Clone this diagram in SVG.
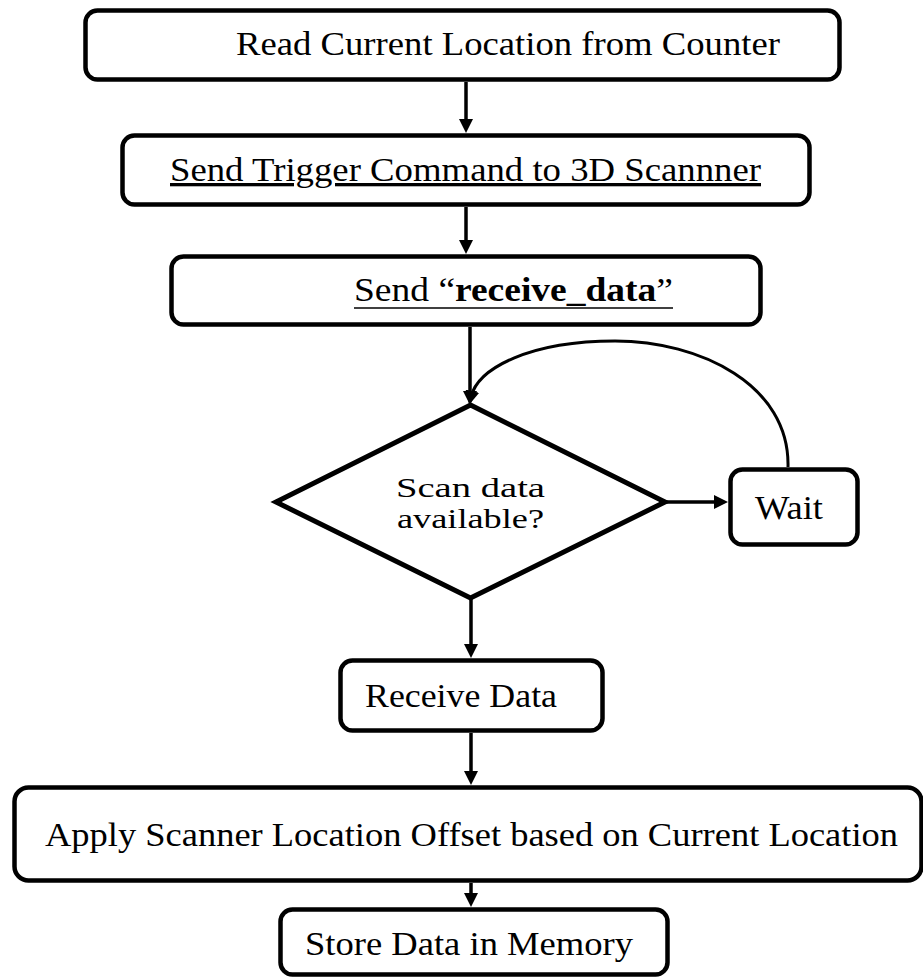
<svg xmlns="http://www.w3.org/2000/svg" width="923" height="977" viewBox="0 0 923 977">
<style>
.box{fill:#fff;stroke:#000;stroke-width:4.5}
.t{font-family:"Liberation Serif","Times New Roman",serif;font-size:33px;fill:#000}
.d{font-size:28px}
.u{text-decoration:underline}
.c{fill:none;stroke:#000;stroke-width:3.5}
</style>
<defs>
<marker id="ah" markerUnits="userSpaceOnUse" markerWidth="16" markerHeight="14" refX="6" refY="7" orient="auto">
<path d="M0,0 L14,7 L0,14 z" fill="#000"/>
</marker>
</defs>
<rect width="923" height="977" fill="#fff"/>
<g id="connectors">
<line class="c" x1="466" y1="82" x2="466" y2="125" marker-end="url(#ah)"/>
<line class="c" x1="466" y1="207" x2="466" y2="246" marker-end="url(#ah)"/>
<line class="c" x1="470" y1="327" x2="470" y2="397" marker-end="url(#ah)"/>
<line class="c" x1="665" y1="502" x2="720" y2="502" marker-end="url(#ah)"/>
<path class="c" style="stroke-width:3" d="M788 467 C790 385 700 341 615 341 C530 341 478 368 471 397" marker-end="url(#ah)"/>
<line class="c" x1="471" y1="598" x2="471" y2="650" marker-end="url(#ah)"/>
<line class="c" x1="471" y1="733" x2="471" y2="777" marker-end="url(#ah)"/>
<line class="c" x1="471" y1="883" x2="471" y2="899" marker-end="url(#ah)"/>
</g>
<g id="read">
<rect class="box" x="85.5" y="10.5" width="754" height="69" rx="12"/>
<text class="t" x="236" y="55" textLength="544" lengthAdjust="spacingAndGlyphs">Read Current Location from Counter</text>
</g>
<g id="trigger">
<rect class="box" x="122.5" y="135.5" width="687" height="69" rx="12"/>
<text class="t u" x="170" y="181" textLength="591" lengthAdjust="spacingAndGlyphs">Send Trigger Command to 3D Scannner</text>
</g>
<g id="send">
<rect class="box" x="171.5" y="256.5" width="589" height="68" rx="12"/>
<text class="t" x="354" y="301" textLength="319" lengthAdjust="spacingAndGlyphs">Send “<tspan font-weight="bold">receive_data</tspan>”</text>
<line x1="354" y1="308" x2="673" y2="308" stroke="#000" stroke-width="1.6"/>
</g>
<g id="decision">
<polygon class="box" style="stroke-width:5" points="470.5,405 665,502 470.5,598 276,502"/>
<text class="t d" x="396" y="497" textLength="149" lengthAdjust="spacingAndGlyphs">Scan data</text>
<text class="t d" x="397" y="528" textLength="147" lengthAdjust="spacingAndGlyphs">available?</text>
</g>
<g id="wait">
<rect class="box" x="730.5" y="469.5" width="127" height="75" rx="12"/>
<text class="t" x="755" y="519" textLength="68" lengthAdjust="spacingAndGlyphs">Wait</text>
</g>
<g id="receive">
<rect class="box" x="340.5" y="660.5" width="262" height="70" rx="12"/>
<text class="t" x="365" y="707" textLength="192" lengthAdjust="spacingAndGlyphs">Receive Data</text>
</g>
<g id="apply">
<rect class="box" x="14.5" y="787.5" width="907" height="93" rx="14"/>
<text class="t" x="45" y="846" textLength="853" lengthAdjust="spacingAndGlyphs">Apply Scanner Location Offset based on Current Location</text>
</g>
<g id="store">
<rect class="box" x="280.5" y="909.5" width="387" height="65" rx="12"/>
<text class="t" x="305" y="955" textLength="328" lengthAdjust="spacingAndGlyphs">Store Data in Memory</text>
</g>
</svg>
